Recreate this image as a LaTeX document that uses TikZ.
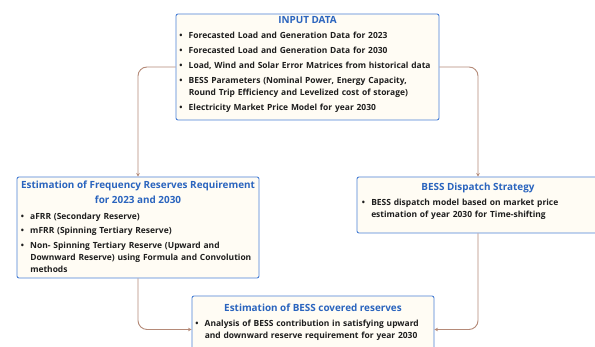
\documentclass[tikz,border=0pt]{standalone}
\usepackage{fontspec}
\setmainfont{Open Sans}
\usetikzlibrary{arrows.meta}
\definecolor{boxfill}{HTML}{FFFCF4}
\definecolor{boxline}{HTML}{4A80D6}
\definecolor{ttlcol}{HTML}{2A64BE}
\definecolor{conncol}{HTML}{B58A78}
\definecolor{txtcol}{HTML}{1E1E1E}
\newcommand\itm[1]{\par\hangindent=9.5pt\hangafter=1\noindent\hbox to 9.5pt{\textbullet\hfil}#1}
\tikzset{
  boxnode/.style={draw=boxline, fill=boxfill, line width=0.9pt, rounded corners=2pt, inner sep=0pt},
  ttl/.style={text=ttlcol, font=\fontsize{9.9}{15}\selectfont\bfseries, inner sep=0pt, align=center},
  lst/.style={text=txtcol, font=\fontsize{8.45}{11.8}\selectfont\bfseries, anchor=north west, inner sep=0pt, text width=300pt},
  conn/.style={draw=conncol, line width=0.9pt, rounded corners=9pt, -{Stealth[length=3.5pt,width=3.5pt]}}
}
\begin{document}
\begin{tikzpicture}[x=1pt,y=1pt]
\useasboundingbox[fill=white] (0,0) rectangle (595,347);
% boxes
\node[boxnode, minimum width=263pt, minimum height=106pt] (in) at (307.5,280) {};
\node[boxnode, minimum width=242pt, minimum height=101pt] (lb) at (138,119.5) {};
\node[boxnode, minimum width=242pt, minimum height=56pt] (rb) at (478,142) {};
\node[boxnode, minimum width=242pt, minimum height=62pt] (bb) at (313,20) {};
% titles
\node[ttl] (tin) at ([yshift=-6pt]in.north) {INPUT DATA};
\node[ttl, anchor=north] (tlb) at ([yshift=-4pt]lb.north) {Estimation of Frequency Reserves Requirement\\for 2023 and 2030};
\node[ttl] (trb) at ([yshift=-11pt]rb.north) {BESS Dispatch Strategy};
\node[ttl] (tbb) at ([yshift=-12pt]bb.north) {Estimation of BESS covered reserves};
% lists
\node[lst] (lin) at ([xshift=3.5pt,yshift=-9.5pt]in.north west) {%
\setlength\parskip{3.2pt}%
\itm{Forecasted Load and Generation Data for 2023}
\itm{Forecasted Load and Generation Data for 2030}
\itm{Load, Wind and Solar Error Matrices from historical data}
\itm{BESS Parameters (Nominal Power, Energy Capacity,\newline Round Trip Efficiency and Levelized cost of storage)}
\itm{Electricity Market Price Model for year 2030}\par};
\node[lst] (llb) at ([xshift=4pt,yshift=-27.5pt]lb.north west) {%
\setlength\parskip{3pt}%
\itm{aFRR (Secondary Reserve)}
\itm{mFRR (Spinning Tertiary Reserve)}
\itm{Non- Spinning Tertiary Reserve (Upward and\newline Downward Reserve) using Formula and Convolution\newline methods}\par};
\node[lst] (lrb) at ([xshift=5pt,yshift=-17pt]rb.north west) {%
\itm{BESS dispatch model based on market price\newline estimation of year 2030 for Time-shifting}\par};
\node[lst] (lbb) at ([xshift=3.5pt,yshift=-19pt]bb.north west) {%
\itm{Analysis of BESS contribution in satisfying upward\newline and downward reserve requirement for year 2030}\par};
% connectors
\draw[conn] (in.west) -| (lb.north);
\draw[conn] (in.east) -| (rb.north);
\draw[conn] (lb.south) |- ([yshift=-2.5pt]bb.west);
\draw[conn] (rb.south) |- ([yshift=-2.5pt]bb.east);
\end{tikzpicture}
\end{document}
